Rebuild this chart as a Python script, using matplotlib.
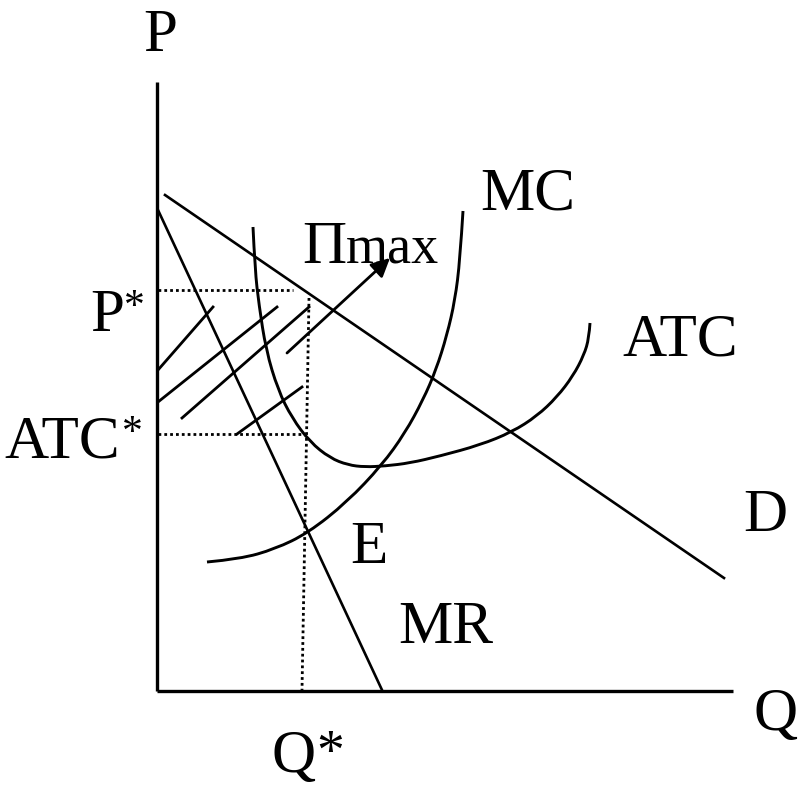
import matplotlib
matplotlib.use("Agg")
import matplotlib.pyplot as plt
from matplotlib.path import Path
from matplotlib.patches import PathPatch

# picture is laid out in pixel units (x right, y down)
axis_p = [(157, 82), (157, 691)]
axis_q = [(157, 691), (733, 691)]

demand_x = [165, 724]
demand_y = [195, 578]
mr_x = [158, 382]
mr_y = [210, 690]

mc_x = [207, 240, 275, 308, 347, 382, 405, 423, 436, 447, 455, 460, 463]
mc_y = [562, 559, 549, 533, 502, 465, 433, 400, 370, 335, 300, 260, 211]

atc_x = [253, 255, 259, 266, 278, 292, 310, 330, 348, 365, 385, 410, 440,
         480, 512, 537, 557, 573, 584, 589, 590]
atc_y = [227, 270, 305, 350, 390, 418, 442, 458, 465, 467, 466, 463, 456,
         445, 432, 416, 397, 376, 355, 338, 323]

p_star, atc_star, q_star = 290, 434, 304

hatch_start = [(158, 370), (158, 402), (182, 418), (237, 434)]
hatch_end = [(213, 307), (277, 307), (309, 307), (302, 387)]

arrow_start = (287, 353)
arrow_end = (390, 258)

# text, x, baseline y, size
labels = [
    ("P", 143, 51, 44), ("Q", 754, 730, 44), ("P", 90, 331, 44),
    ("ATC", 4, 457, 44), ("Q", 272, 772, 44), ("MC", 480, 210, 44),
    ("\u03a0", 302, 263, 44), ("max", 346, 263, 39),
    ("ATC", 622, 355, 44), ("D", 743, 531, 44), ("E", 350, 563, 44),
    ("MR", 398, 643, 44),
]
# asterisks: x, baseline y, size
stars = [(124, 318, 30), (122, 444, 30), (316, 769, 40)]


def smooth(xs, ys):
    # quadratic B-spline through the read points as control polygon
    pts = list(zip(xs, ys))
    verts = [pts[0]]
    codes = [Path.MOVETO]
    for i in range(1, len(pts) - 2):
        mid = ((pts[i][0] + pts[i + 1][0]) / 2, (pts[i][1] + pts[i + 1][1]) / 2)
        verts += [pts[i], mid]
        codes += [Path.CURVE3, Path.CURVE3]
    verts += [pts[-2], pts[-1]]
    codes += [Path.CURVE3, Path.CURVE3]
    return Path(verts, codes)


fig = plt.figure(figsize=(7.98, 7.85), dpi=100)
ax = fig.add_axes([0, 0, 1, 1])
ax.set_xlim(0, 798)
ax.set_ylim(785, 0)
ax.axis("off")

for seg in (axis_p, axis_q):
    ax.plot([seg[0][0], seg[1][0]], [seg[0][1], seg[1][1]], color="black", lw=2.4,
            solid_capstyle="butt")

ax.plot(demand_x, demand_y, color="black", lw=1.9)
ax.plot(mr_x, mr_y, color="black", lw=1.9)
for xs, ys in ((mc_x, mc_y), (atc_x, atc_y)):
    ax.add_patch(PathPatch(smooth(xs, ys), fill=False, edgecolor="black", lw=2.1))

# dotted guides
dot = dict(color="black", lw=2.0, linestyle=(0, (1, 1.1)))
ax.plot([158, 293], [p_star, p_star], **dot)
ax.plot([158, 305], [atc_star, atc_star], **dot)
ax.plot([309, q_star - 2], [298, 690], **dot)

# profit hatching
for (x0, y0), (x1, y1) in zip(hatch_start, hatch_end):
    ax.plot([x0, x1], [y0, y1], color="black", lw=2.0)

ax.annotate("", xy=arrow_end, xytext=arrow_start,
            arrowprops=dict(arrowstyle="-|>", color="black", lw=2.0,
                            mutation_scale=28, shrinkA=0, shrinkB=0))

for text, x, y, size in labels:
    ax.text(x, y, text, fontsize=size, family="Liberation Serif",
            ha="left", va="baseline", color="black")
for x, y, size in stars:
    ax.text(x, y, "*", fontsize=size, family="Liberation Serif",
            ha="left", va="baseline", color="black")

fig.savefig("out.png", dpi=100)
